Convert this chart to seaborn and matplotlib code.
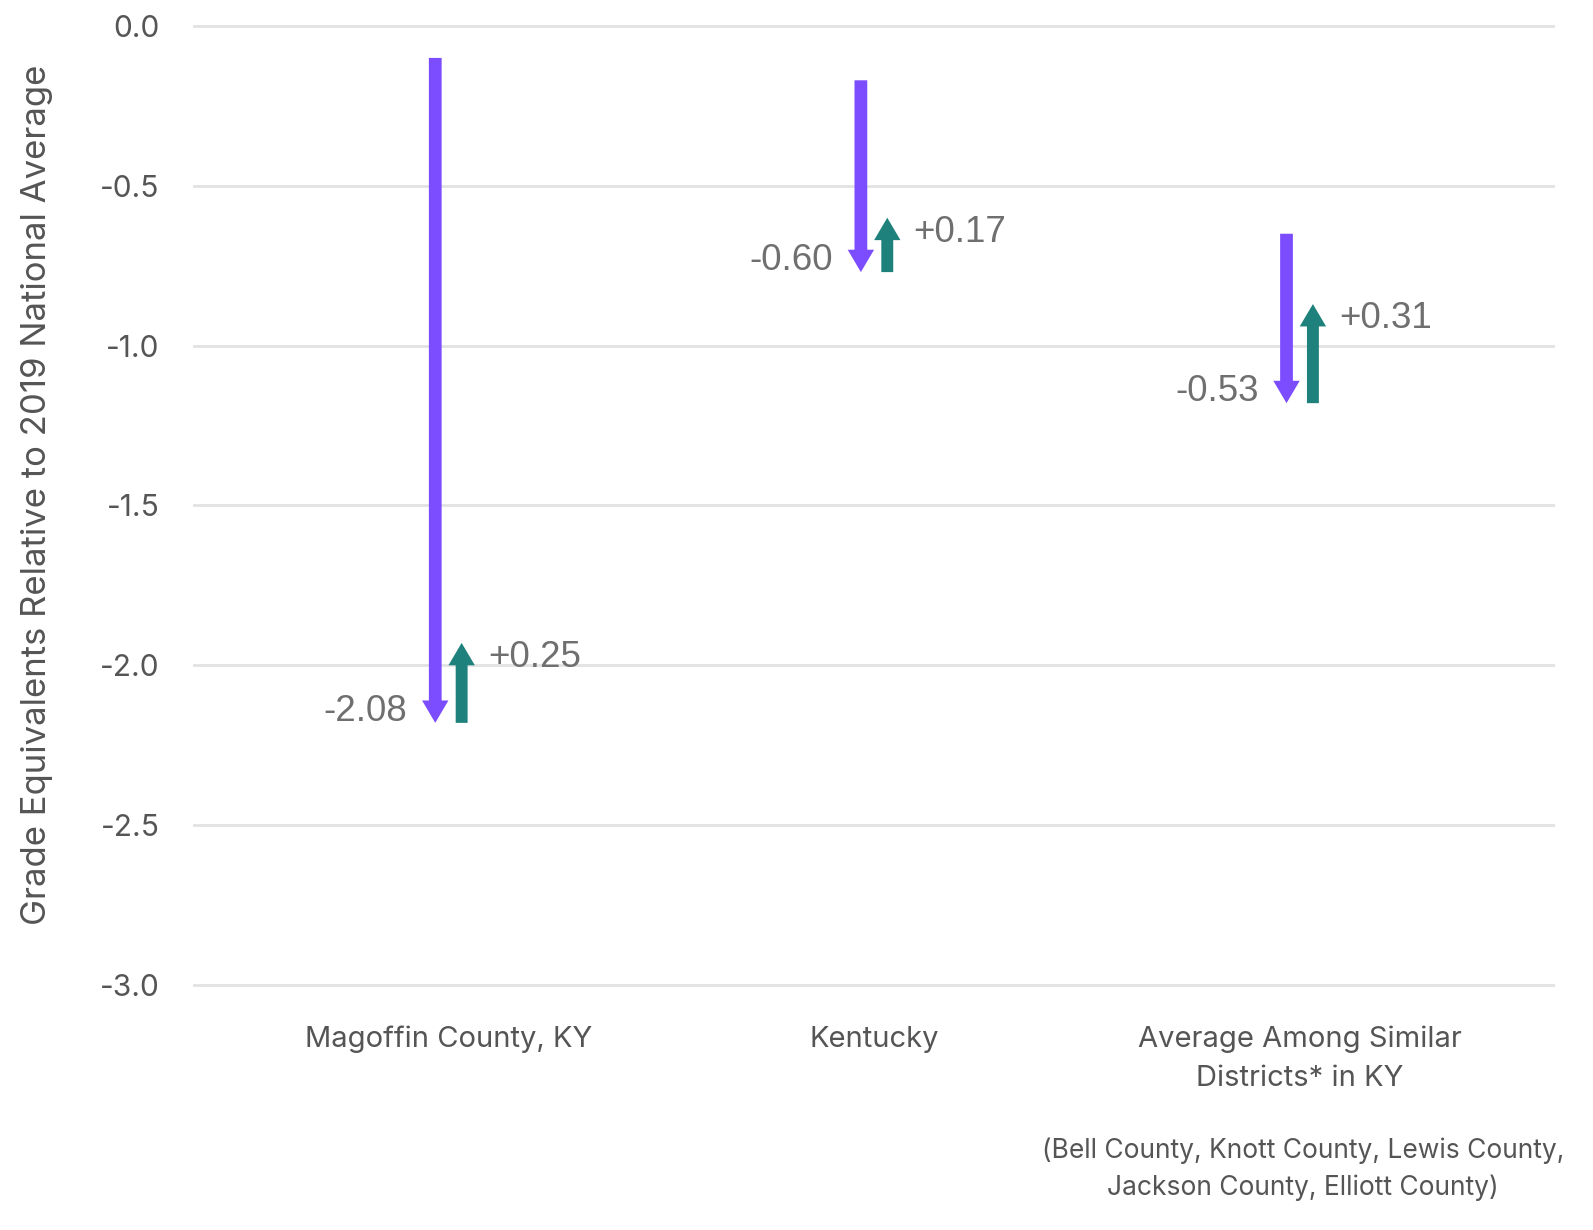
import numpy as np
import matplotlib
matplotlib.use("Agg")
import matplotlib.pyplot as plt
import seaborn as sns

# DATA
groups = ["Magoffin County, KY", "Kentucky", "Average Among Similar\nDistricts* in KY"]
start = [-0.10, -0.17, -0.65]
drop = [-2.08, -0.60, -0.53]
recovery = [0.25, 0.17, 0.31]
drop_labels = ["-2.08", "-0.60", "-0.53"]
rec_labels = ["+0.25", "+0.17", "+0.31"]
yticks = [0.0, -0.5, -1.0, -1.5, -2.0, -2.5, -3.0]

PURPLE = "#7c4dff"
TEAL = "#1e817c"
GREY = "#6f6f6f"

sns.set_theme(style="white")
plt.rcParams["font.family"] = ["Inter", "DejaVu Sans"]

fig = plt.figure(figsize=(15.93, 12.30), dpi=100)
ax = fig.add_axes([0.1212, 0.1862, 0.8550, 0.8057])

x = np.arange(len(groups))
off = 0.031
for i in x:
    s = start[i]
    e = s + drop[i]
    r = e + recovery[i]
    ax.arrow(i - off, s, 0, drop[i], width=0.03, head_width=0.062,
             head_length=0.07, length_includes_head=True, color=PURPLE, lw=0, zorder=3)
    ax.arrow(i + off, e, 0, recovery[i], width=0.028, head_width=0.062,
             head_length=0.07, length_includes_head=True, color=TEAL, lw=0, zorder=3)
    ax.annotate(drop_labels[i], (i - off, e + 0.035), xytext=(-20, 0), textcoords="offset points",
                ha="right", va="center", fontsize=26.5, color=GREY, family="Liberation Sans")
    ax.annotate(rec_labels[i], (i + off, r - 0.045), xytext=(19, 0), textcoords="offset points",
                ha="left", va="center", fontsize=26.5, color=GREY, family="Liberation Sans")

ax.set_xlim(-0.6, 2.6)
ax.set_ylim(-3.05, 0.05)
ax.set_yticks(yticks)
ax.set_yticklabels([f"{v:.1f}" for v in yticks], fontsize=21.5, color="#555555")
ax.set_xticks(x)
ax.set_xticklabels(groups, fontsize=21, color="#555555", linespacing=1.55)
ax.tick_params(axis="y", length=0, pad=24)
ax.tick_params(axis="x", length=0, pad=18)
ax.yaxis.grid(True, color="#e2e2e2", lw=2)
ax.xaxis.grid(False)
for sp in ax.spines.values():
    sp.set_visible(False)
ax.set_ylabel("Grade Equivalents Relative to 2019 National Average", fontsize=25,
              color="#555555")
ax.yaxis.set_label_coords(-0.103, 0.511)

fig.text(0.818, 0.0496, "(Bell County, Knott County, Lewis County,\nJackson County, Elliott County)",
         ha="center", va="center", fontsize=19, color="#555555", linespacing=1.53)

fig.savefig("out.png", dpi=100)
